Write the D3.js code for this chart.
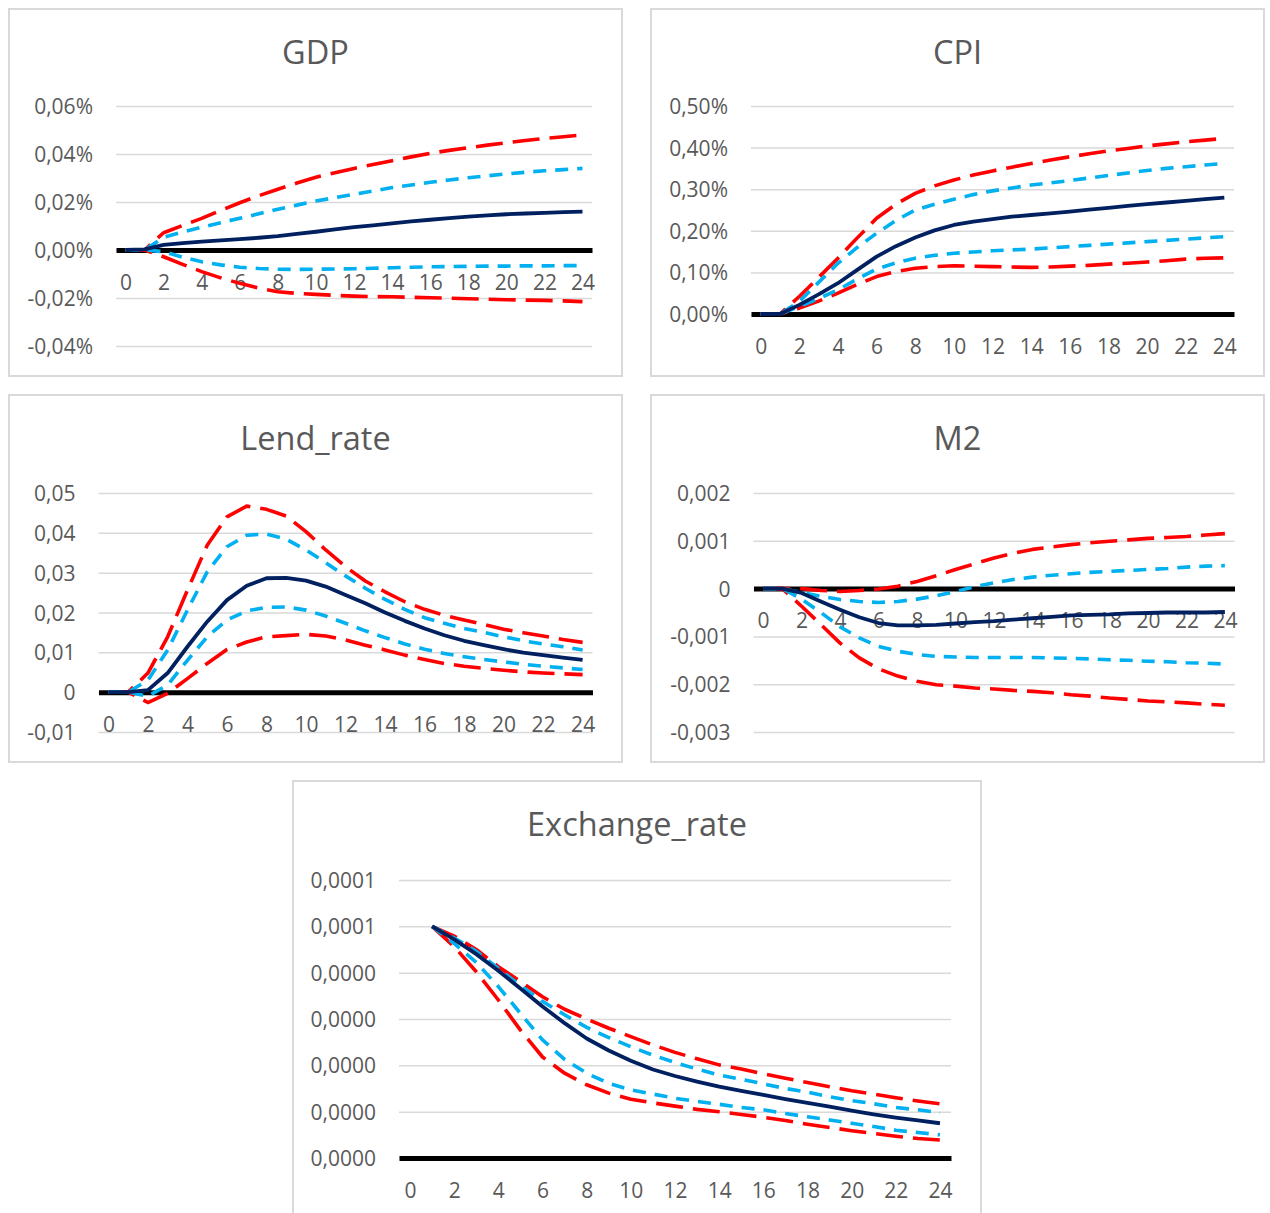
<!DOCTYPE html>
<html>
<head>
<meta charset="utf-8">
<script src="https://cdn.jsdelivr.net/npm/d3@7"></script>
<style>
  html, body { margin: 0; padding: 0; background: #ffffff; }
  svg { display: block; }
  .tick text { font-family: "Open Sans", sans-serif; fill: #595959; }
</style>
</head>
<body>
<svg id="chart" width="1270" height="1213"></svg>
<script>
// Impulse responses over 25 periods (0..24)
const periods = d3.range(0, 25);
const periodLabels = periods.filter(p => p % 2 === 0);

// GDP (values in %)
const gdpResponse = [0, 0.0003, 0.0021, 0.0029, 0.0035, 0.0040, 0.0045, 0.0051, 0.0058, 0.0067, 0.0076, 0.0086, 0.0095, 0.0103, 0.0111, 0.0119, 0.0126, 0.0133, 0.0139, 0.0144, 0.0149, 0.0152, 0.0155, 0.0158, 0.0160];
const gdpUpper68 = [0, 0, 0.0053, 0.0075, 0.0095, 0.0114, 0.0132, 0.0151, 0.0170, 0.0187, 0.0204, 0.0218, 0.0232, 0.0246, 0.0260, 0.0271, 0.0282, 0.0292, 0.0301, 0.0309, 0.0317, 0.0324, 0.0330, 0.0335, 0.0340];
const gdpLower68 = [0, 0, -0.0007, -0.0030, -0.0049, -0.0062, -0.0072, -0.0077, -0.0080, -0.0081, -0.0080, -0.0079, -0.0078, -0.0076, -0.0074, -0.0072, -0.0070, -0.0069, -0.0068, -0.0067, -0.0067, -0.0066, -0.0066, -0.0065, -0.0065];
const gdpUpper95 = [0, 0, 0.0072, 0.0102, 0.0132, 0.0165, 0.0197, 0.0226, 0.0253, 0.0279, 0.0303, 0.0322, 0.0340, 0.0356, 0.0372, 0.0388, 0.0403, 0.0415, 0.0426, 0.0437, 0.0447, 0.0456, 0.0465, 0.0472, 0.0479];
const gdpLower95 = [0, 0, -0.0028, -0.0060, -0.0090, -0.0116, -0.0139, -0.0159, -0.0174, -0.0181, -0.0185, -0.0189, -0.0192, -0.0194, -0.0195, -0.0197, -0.0199, -0.0201, -0.0203, -0.0205, -0.0207, -0.0209, -0.0210, -0.0212, -0.0215];
const gdpTicks = [-0.04, -0.02, 0, 0.02, 0.04, 0.06];
const gdpTickLabels = ["-0,04%", "-0,02%", "0,00%", "0,02%", "0,04%", "0,06%"];

// CPI (values in %)
const cpiResponse = [0, 0, 0.022, 0.047, 0.074, 0.106, 0.138, 0.163, 0.184, 0.201, 0.214, 0.222, 0.228, 0.234, 0.238, 0.242, 0.246, 0.251, 0.255, 0.260, 0.264, 0.268, 0.272, 0.276, 0.280];
const cpiUpper68 = [0, 0, 0.030, 0.076, 0.122, 0.160, 0.194, 0.225, 0.250, 0.264, 0.276, 0.287, 0.296, 0.303, 0.310, 0.315, 0.321, 0.327, 0.333, 0.339, 0.345, 0.350, 0.354, 0.358, 0.362];
const cpiLower68 = [0, 0, 0.018, 0.037, 0.058, 0.084, 0.108, 0.123, 0.134, 0.141, 0.146, 0.149, 0.152, 0.154, 0.156, 0.159, 0.162, 0.165, 0.168, 0.171, 0.174, 0.177, 0.180, 0.183, 0.186];
const cpiUpper95 = [0, 0, 0.042, 0.088, 0.134, 0.183, 0.230, 0.264, 0.290, 0.308, 0.322, 0.334, 0.344, 0.353, 0.362, 0.370, 0.378, 0.385, 0.392, 0.398, 0.404, 0.409, 0.414, 0.418, 0.422];
const cpiLower95 = [0, 0, 0.014, 0.031, 0.050, 0.071, 0.090, 0.102, 0.110, 0.114, 0.116, 0.115, 0.114, 0.113, 0.112, 0.113, 0.115, 0.117, 0.120, 0.122, 0.125, 0.128, 0.132, 0.134, 0.135];
const cpiTicks = [0, 0.1, 0.2, 0.3, 0.4, 0.5];
const cpiTickLabels = ["0,00%", "0,10%", "0,20%", "0,30%", "0,40%", "0,50%"];

// Lending rate
const lendResponse = [0, 0, 0.0005, 0.0048, 0.0114, 0.0177, 0.0231, 0.0267, 0.0286, 0.0287, 0.0280, 0.0265, 0.0244, 0.0223, 0.0200, 0.0179, 0.0160, 0.0143, 0.0129, 0.0118, 0.0108, 0.0099, 0.0093, 0.0087, 0.0081];
const lendUpper68 = [0, 0, 0.0030, 0.0106, 0.0206, 0.0302, 0.0365, 0.0394, 0.0397, 0.0384, 0.0357, 0.0325, 0.0292, 0.0261, 0.0233, 0.0208, 0.0187, 0.0173, 0.0160, 0.0150, 0.0139, 0.0129, 0.0121, 0.0114, 0.0106];
const lendLower68 = [0, 0, -0.0010, 0.0018, 0.0080, 0.0139, 0.0181, 0.0204, 0.0213, 0.0214, 0.0206, 0.0191, 0.0173, 0.0154, 0.0137, 0.0121, 0.0108, 0.0097, 0.0089, 0.0082, 0.0076, 0.0070, 0.0065, 0.0061, 0.0057];
const lendUpper95 = [0, 0, 0.0048, 0.0139, 0.0256, 0.0369, 0.0440, 0.0467, 0.0459, 0.0442, 0.0403, 0.0357, 0.0315, 0.0279, 0.0252, 0.0227, 0.0208, 0.0193, 0.0181, 0.0170, 0.0158, 0.0149, 0.0141, 0.0132, 0.0125];
const lendLower95 = [0, 0, -0.0026, -0.0003, 0.0034, 0.0072, 0.0107, 0.0126, 0.0139, 0.0142, 0.0145, 0.0141, 0.0131, 0.0118, 0.0106, 0.0093, 0.0082, 0.0072, 0.0065, 0.0060, 0.0055, 0.0051, 0.0048, 0.0046, 0.0044];
const lendTicks = [-0.01, 0, 0.01, 0.02, 0.03, 0.04, 0.05];
const lendTickLabels = ["-0,01", "0", "0,01", "0,02", "0,03", "0,04", "0,05"];

// Money supply M2
const m2Response = [0, 0, -0.00009, -0.00027, -0.00044, -0.00060, -0.00072, -0.00077, -0.00077, -0.00076, -0.00073, -0.00070, -0.00068, -0.00065, -0.00062, -0.00059, -0.00056, -0.00055, -0.00054, -0.00052, -0.00051, -0.00050, -0.00050, -0.00050, -0.00049];
const m2Upper68 = [0, 0, -0.00008, -0.00016, -0.00023, -0.00027, -0.00029, -0.00027, -0.00022, -0.00015, -0.00006, 0.00004, 0.00012, 0.00019, 0.00024, 0.00028, 0.00031, 0.00034, 0.00036, 0.00038, 0.00040, 0.00042, 0.00045, 0.00047, 0.00048];
const m2Lower68 = [0, 0, -0.00022, -0.00050, -0.00080, -0.00103, -0.00121, -0.00131, -0.00138, -0.00142, -0.00143, -0.00144, -0.00144, -0.00144, -0.00144, -0.00145, -0.00146, -0.00147, -0.00149, -0.00150, -0.00152, -0.00153, -0.00155, -0.00156, -0.00158];
const m2Upper95 = [0, 0, 0, -0.00004, -0.00006, -0.00004, -0.00001, 0.00005, 0.00015, 0.00027, 0.00040, 0.00052, 0.00064, 0.00074, 0.00082, 0.00087, 0.00092, 0.00096, 0.00099, 0.00102, 0.00105, 0.00107, 0.00109, 0.00112, 0.00115];
const m2Lower95 = [0, 0, -0.00037, -0.00075, -0.00114, -0.00145, -0.00168, -0.00183, -0.00194, -0.00201, -0.00204, -0.00208, -0.00210, -0.00213, -0.00215, -0.00218, -0.00222, -0.00225, -0.00229, -0.00232, -0.00235, -0.00237, -0.00239, -0.00242, -0.00244];
const m2Ticks = [-0.003, -0.002, -0.001, 0, 0.001, 0.002];
const m2TickLabels = ["-0,003", "-0,002", "-0,001", "0", "0,001", "0,002"];

// Exchange rate (no value in period 0)
const fxResponse = [null, 5.00e-5, 4.72e-5, 4.40e-5, 4.04e-5, 3.66e-5, 3.27e-5, 2.91e-5, 2.58e-5, 2.32e-5, 2.10e-5, 1.91e-5, 1.77e-5, 1.65e-5, 1.54e-5, 1.45e-5, 1.36e-5, 1.27e-5, 1.19e-5, 1.11e-5, 1.02e-5, 0.94e-5, 0.87e-5, 0.81e-5, 0.75e-5];
const fxUpper68 = [null, 5.00e-5, 4.75e-5, 4.46e-5, 4.09e-5, 3.72e-5, 3.38e-5, 3.09e-5, 2.82e-5, 2.60e-5, 2.40e-5, 2.22e-5, 2.06e-5, 1.92e-5, 1.79e-5, 1.70e-5, 1.60e-5, 1.50e-5, 1.42e-5, 1.32e-5, 1.24e-5, 1.17e-5, 1.09e-5, 1.04e-5, 0.98e-5];
const fxLower68 = [null, 5.00e-5, 4.63e-5, 4.22e-5, 3.70e-5, 3.12e-5, 2.55e-5, 2.13e-5, 1.83e-5, 1.61e-5, 1.47e-5, 1.38e-5, 1.29e-5, 1.22e-5, 1.16e-5, 1.09e-5, 1.04e-5, 0.96e-5, 0.89e-5, 0.82e-5, 0.75e-5, 0.68e-5, 0.60e-5, 0.55e-5, 0.50e-5];
const fxUpper95 = [null, 5.00e-5, 4.79e-5, 4.50e-5, 4.13e-5, 3.81e-5, 3.48e-5, 3.21e-5, 3.00e-5, 2.80e-5, 2.62e-5, 2.44e-5, 2.28e-5, 2.14e-5, 2.01e-5, 1.92e-5, 1.82e-5, 1.72e-5, 1.63e-5, 1.54e-5, 1.45e-5, 1.38e-5, 1.30e-5, 1.23e-5, 1.17e-5];
const fxLower95 = [null, 5.00e-5, 4.56e-5, 4.02e-5, 3.41e-5, 2.76e-5, 2.18e-5, 1.83e-5, 1.58e-5, 1.40e-5, 1.27e-5, 1.19e-5, 1.12e-5, 1.05e-5, 1.00e-5, 0.94e-5, 0.88e-5, 0.81e-5, 0.73e-5, 0.66e-5, 0.59e-5, 0.53e-5, 0.47e-5, 0.42e-5, 0.39e-5];
const fxTicks = [0, 1e-5, 2e-5, 3e-5, 4e-5, 5e-5, 6e-5];
const fxTickLabels = ["0,0000", "0,0000", "0,0000", "0,0000", "0,0000", "0,0001", "0,0001"];

// Panel layout: frame box and plot area in pixels
const panels = [
  { title: "GDP", frame: [9, 9, 622, 376], plot: [116, 106, 592, 346],
    ticks: gdpTicks, labels: gdpTickLabels,
    series: { resp: gdpResponse, u68: gdpUpper68, l68: gdpLower68, u95: gdpUpper95, l95: gdpLower95 } },
  { title: "CPI", frame: [651, 9, 1264, 376], plot: [751, 106, 1234, 314],
    ticks: cpiTicks, labels: cpiTickLabels,
    series: { resp: cpiResponse, u68: cpiUpper68, l68: cpiLower68, u95: cpiUpper95, l95: cpiLower95 } },
  { title: "Lend_rate", frame: [9, 395, 622, 762], plot: [98.5, 493, 592.5, 732],
    ticks: lendTicks, labels: lendTickLabels,
    series: { resp: lendResponse, u68: lendUpper68, l68: lendLower68, u95: lendUpper95, l95: lendLower95 } },
  { title: "M2", frame: [651, 395, 1264, 762], plot: [753.5, 493, 1234.5, 732],
    ticks: m2Ticks, labels: m2TickLabels,
    series: { resp: m2Response, u68: m2Upper68, l68: m2Lower68, u95: m2Upper95, l95: m2Lower95 } },
  { title: "Exchange_rate", frame: [293, 781, 981, 1230], plot: [399, 880, 951, 1158],
    ticks: fxTicks, labels: fxTickLabels,
    series: { resp: fxResponse, u68: fxUpper68, l68: fxLower68, u95: fxUpper95, l95: fxLower95 } }
];

// Line styles: 95% bands long-dashed red, 68% bands dashed blue, response solid navy
const styles = [
  { key: "l95", color: "#FF0000", width: 3.6, dash: "27,10" },
  { key: "u95", color: "#FF0000", width: 3.6, dash: "27,10" },
  { key: "l68", color: "#00B0F0", width: 3.6, dash: "13,9" },
  { key: "u68", color: "#00B0F0", width: 3.6, dash: "13,9" },
  { key: "resp", color: "#002060", width: 3.8, dash: null }
];

const svg = d3.select("#chart");
svg.append("rect").attr("width", 1270).attr("height", 1213).attr("fill", "#ffffff");

panels.forEach(p => {
  const [fx0, fy0, fx1, fy1] = p.frame;
  const [px0, py0, px1, py1] = p.plot;
  const g = svg.append("g");

  g.append("rect")
    .attr("x", fx0).attr("y", fy0)
    .attr("width", fx1 - fx0).attr("height", fy1 - fy0)
    .attr("fill", "#ffffff").attr("stroke", "#D9D9D9").attr("stroke-width", 2);

  g.append("text")
    .attr("x", (fx0 + fx1) / 2).attr("y", fy0 + 55)
    .attr("text-anchor", "middle")
    .attr("font-family", "'Open Sans', sans-serif")
    .attr("font-size", 32.5).attr("fill", "#595959")
    .text(p.title);

  const x = d3.scalePoint().domain(periods).range([px0, px1]).padding(0.5);
  const y = d3.scaleLinear().domain(d3.extent(p.ticks)).range([py1, py0]);

  // horizontal gridlines
  const grid = g.append("g").attr("transform", `translate(${px0},0)`)
    .call(d3.axisLeft(y).tickValues(p.ticks).tickSize(-(px1 - px0)).tickFormat(""));
  grid.select(".domain").remove();
  grid.selectAll(".tick line").attr("stroke", "#D9D9D9").attr("stroke-width", 1.5);

  // value labels
  const yAxis = g.append("g").attr("transform", `translate(${px0},0)`)
    .call(d3.axisLeft(y).tickValues(p.ticks).tickSize(0).tickPadding(23)
      .tickFormat((d, i) => p.labels[i]));
  yAxis.select(".domain").remove();
  yAxis.selectAll(".tick text").attr("font-size", 21).attr("dy", "0.36em");

  // category axis on the zero line
  const xAxis = g.append("g").attr("transform", `translate(0,${y(0)})`)
    .call(d3.axisBottom(x).tickValues(periodLabels).tickSize(0).tickSizeOuter(0));
  xAxis.select(".domain").attr("stroke", "#000000").attr("stroke-width", 5);
  xAxis.selectAll(".tick text").attr("font-size", 21).attr("y", 32).attr("dy", "0.36em");

  const line = d3.line()
    .defined(d => d.v !== null)
    .x(d => x(d.t))
    .y(d => y(d.v));

  styles.forEach(s => {
    const pts = periods.map((t, i) => ({ t, v: p.series[s.key][i] }));
    g.append("path")
      .datum(pts)
      .attr("d", line)
      .attr("fill", "none")
      .attr("stroke", s.color)
      .attr("stroke-width", s.width)
      .attr("stroke-linejoin", "round")
      .attr("stroke-dasharray", s.dash);
  });
});
</script>
</body>
</html>
